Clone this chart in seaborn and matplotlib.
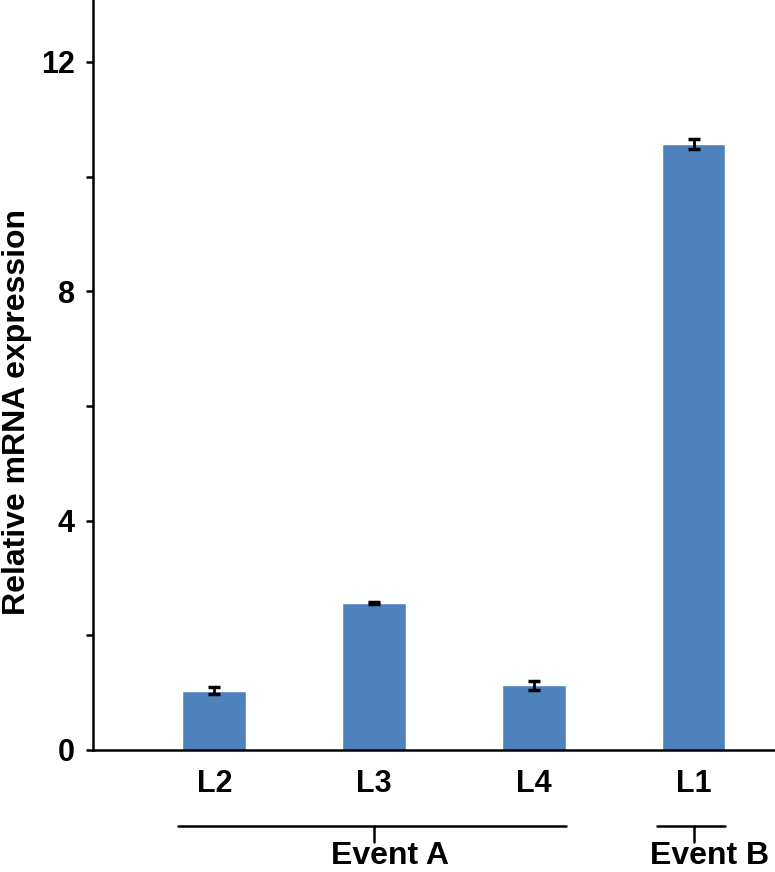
import matplotlib
matplotlib.use('Agg')
import matplotlib.pyplot as plt
import matplotlib.transforms as mtransforms
from matplotlib.ticker import MultipleLocator
import seaborn as sns
import pandas as pd

lines = ['L2', 'L3', 'L4', 'L1']
expression = [1.03, 2.56, 1.13, 10.57]
errors = [0.06, 0.02, 0.08, 0.09]
groups = ['Event A', 'Event B']
group_members = [['L2', 'L3', 'L4'], ['L1']]

sns.set_style('ticks')
plt.rcParams['font.family'] = ['Liberation Sans', 'DejaVu Sans']
plt.rcParams['font.weight'] = 'bold'
for key in ['text.color', 'axes.labelcolor', 'xtick.color', 'ytick.color',
            'axes.edgecolor']:
    plt.rcParams[key] = 'black'

df = pd.DataFrame({'line': lines, 'expression': expression})

fig = plt.figure(figsize=(7.75, 8.72), dpi=100)
ax = fig.add_axes([0.12, 0.14, 0.88, 0.86])

sns.barplot(data=df, x='line', y='expression', color='#4F81BD',
            saturation=1, width=0.4, errorbar=None, ax=ax)
ax.errorbar(range(len(lines)), expression, yerr=errors, fmt='none',
            ecolor='black', elinewidth=2, capsize=4.5, capthick=2.5)

ax.set_xlim(-0.76, 3.51)
ax.set_ylim(0, 13.08)
ax.yaxis.set_major_locator(MultipleLocator(4))
ax.yaxis.set_minor_locator(MultipleLocator(2))
ax.tick_params(axis='y', which='both', length=5, width=1.8, pad=8,
               labelsize=22, direction='out')
ax.tick_params(axis='x', length=0, pad=14, labelsize=22)
for lab in ax.get_xticklabels() + ax.get_yticklabels():
    lab.set_fontweight('bold')

ax.set_xlabel('')
ax.set_ylabel('Relative mRNA expression', fontsize=23, fontweight='bold')
ax.yaxis.set_label_coords(-0.089, 0.45)

sns.despine(ax=ax)
for side in ['left', 'bottom']:
    ax.spines[side].set_linewidth(1.8)

# group brackets under the tick labels
trans = mtransforms.blended_transform_factory(ax.transData, ax.transAxes)
pos = {name: i for i, name in enumerate(lines)}
for name, members in zip(groups, group_members):
    idx = [pos[m] for m in members]
    lo, hi = min(idx) - 0.23, max(idx) + 0.2
    mid = (min(idx) + max(idx)) / 2
    ax.plot([lo, hi], [-0.101, -0.101], color='black', lw=1.8,
            transform=trans, clip_on=False)
    ax.plot([mid, mid], [-0.101, -0.123], color='black', lw=1.8,
            transform=trans, clip_on=False)
    ax.text(mid + 0.1, -0.152, name, transform=trans, ha='center',
            va='baseline', fontsize=23, fontweight='bold')

fig.savefig('out.png', dpi=100)
